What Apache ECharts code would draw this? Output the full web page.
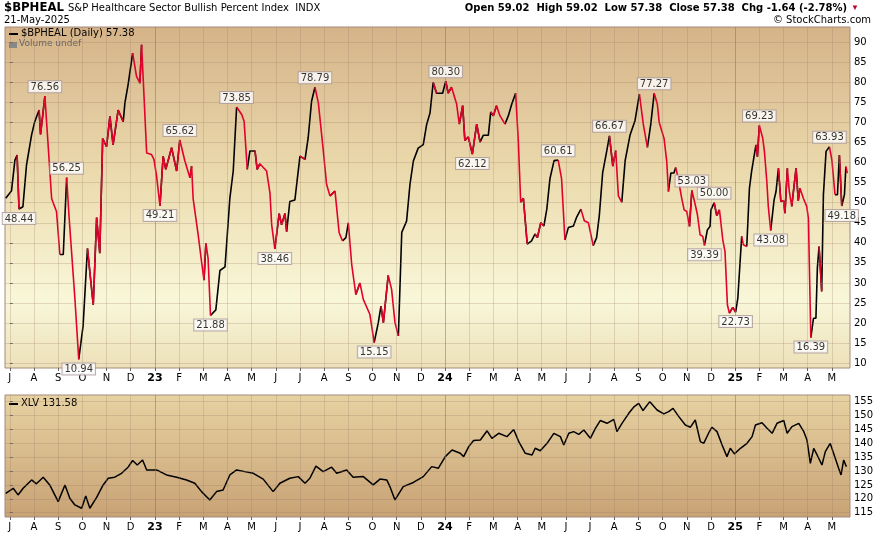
<!DOCTYPE html>
<html>
<head>
<meta charset="utf-8">
<script src="https://cdn.jsdelivr.net/npm/echarts@6/dist/echarts.min.js"></script>
<style>html,body{margin:0;padding:0;background:#fff}#c{width:877px;height:533px}</style>
</head>
<body>
<div id="c"></div>
<script>
// x values are months since 1-Jul-2022 (0 = Jul 2022)
const bphealX = [-0.17,0.07,0.21,0.30,0.38,0.54,0.69,0.90,1.03,1.21,1.27,1.45,1.73,1.93,2.07,2.21,2.35,2.45,2.69,2.85,3.03,3.21,3.45,3.59,3.72,3.84,4.00,4.14,4.27,4.48,4.69,4.76,4.89,5.08,5.24,5.38,5.45,5.54,5.66,5.86,5.96,6.07,6.21,6.34,6.45,6.69,6.90,7.03,7.24,7.45,7.52,7.58,7.79,7.93,8.03,8.11,8.20,8.30,8.52,8.69,8.90,9.10,9.24,9.38,9.59,9.69,9.82,9.93,10.14,10.23,10.34,10.62,10.76,10.83,10.96,11.14,11.24,11.38,11.45,11.58,11.79,12.00,12.21,12.34,12.48,12.62,12.76,12.96,13.10,13.24,13.45,13.62,13.76,13.90,14.00,14.14,14.31,14.48,14.62,14.89,15.07,15.24,15.35,15.45,15.65,15.79,15.93,16.07,16.21,16.41,16.55,16.69,16.89,17.10,17.24,17.38,17.51,17.65,17.90,18.03,18.13,18.27,18.48,18.59,18.73,18.82,18.96,19.13,19.31,19.45,19.58,19.79,19.89,20.00,20.13,20.27,20.48,20.62,20.76,20.92,21.03,21.13,21.24,21.40,21.58,21.72,21.82,21.96,22.09,22.21,22.34,22.51,22.68,22.82,22.96,23.10,23.31,23.45,23.62,23.76,23.93,24.13,24.27,24.38,24.52,24.69,24.80,24.94,25.06,25.17,25.31,25.45,25.65,25.86,26.04,26.20,26.37,26.51,26.65,26.78,26.86,27.06,27.17,27.24,27.34,27.47,27.54,27.63,27.79,27.89,28.00,28.11,28.21,28.35,28.44,28.55,28.66,28.73,28.85,28.96,29.00,29.13,29.24,29.35,29.49,29.58,29.68,29.76,29.90,30.02,30.11,30.27,30.34,30.48,30.59,30.68,30.86,30.92,31.00,31.14,31.21,31.31,31.37,31.47,31.61,31.69,31.79,31.89,32.00,32.06,32.16,32.24,32.34,32.52,32.61,32.68,32.82,32.96,33.03,33.13,33.24,33.34,33.40,33.47,33.58,33.65,33.76,33.90,34.00,34.13,34.23,34.31,34.41,34.52,34.58,34.64];
const bphealY = [51.1,53,60.6,61.9,48.44,49,59.4,66.9,70.2,73.1,67,76.56,51,47.8,37.1,37.1,56.25,46.5,26.2,10.94,19.3,38.6,24.5,46.3,37.4,66,64,71.5,64.4,73.1,70.2,74.9,79.4,87.3,81.5,79.8,89.36,77.8,62.4,62,60.8,56.6,49.21,61.6,58.3,63.7,57.9,65.62,60.4,56.2,59.1,51.1,42,35.3,30.7,39.9,36.1,21.88,23.3,33.1,34,51.1,57.9,73.85,72,70.3,58.3,62.9,62.9,58.3,59.7,57.9,52.4,44.5,38.46,47.3,44.5,47.3,42.8,50.3,50.7,61.6,60.8,66.2,75.3,78.79,74.9,63.3,54.6,51.7,52.9,42.5,40.5,41.3,45,34.6,27.1,30,25.9,22.2,15.15,20.1,24.2,20.1,31.9,28.4,20.1,16.8,42.6,45.4,54.6,60.4,63.6,64.5,69.5,72.4,80,77.3,77.3,80.30,77.3,78.8,74.6,69.6,74.2,65.5,66.4,62.12,69.6,65.1,66.8,66.8,72.6,71.7,74.2,71.7,69.6,71.7,74.6,77.3,65.5,50.1,51.1,39.7,40.5,42.2,41.3,45,44.2,48.4,56,60.5,60.61,56,40.7,43.8,44.2,46.5,48.4,45.5,45.0,39.3,41.3,46.7,57.5,62.9,66.67,59.1,63,51.7,50.1,60.5,66.8,70.5,77.1,69.6,63.8,69.6,77.27,74.6,70,66,60.3,52.8,57.4,57.4,58.8,56.5,51.1,48.2,47.8,44.1,53.03,49.5,47,42,41.6,39.39,43.2,44.1,48.2,50.0,46.8,48.2,40.7,37.8,24.5,22.5,23.9,22.73,26.2,41.6,39.5,39.1,53.6,57.8,64.4,61.5,69.23,66.1,62.8,55.3,49.1,43.08,50.7,52.8,58.6,50.3,50.5,47.4,58.6,52.8,49.1,58.6,50.5,53.6,51.1,49.1,46.1,16.39,21.2,21.2,33.7,39.1,27.9,52,62.8,63.93,60.7,52,52,61.9,49.18,52,59,57.38];

const xlvX = [-0.17,0.14,0.34,0.55,0.90,1.10,1.38,1.65,2.00,2.28,2.48,2.69,2.97,3.14,3.31,3.59,3.86,4.07,4.34,4.62,4.89,5.08,5.27,5.49,5.66,6.07,6.48,6.90,7.31,7.65,7.93,8.27,8.55,8.82,9.10,9.38,9.72,10.07,10.48,10.89,11.17,11.58,11.93,12.21,12.41,12.66,12.96,13.31,13.52,13.93,14.20,14.62,15.03,15.31,15.59,15.72,15.93,16.27,16.69,17.10,17.45,17.72,18.01,18.29,18.63,18.77,18.98,19.18,19.46,19.74,19.94,20.22,20.56,20.84,21.05,21.32,21.60,21.73,21.94,22.22,22.50,22.77,22.91,23.12,23.32,23.53,23.74,24.01,24.22,24.42,24.70,24.98,25.11,25.32,25.60,25.80,26.01,26.19,26.47,26.77,27.05,27.25,27.43,27.67,27.94,28.15,28.35,28.56,28.70,28.91,29.04,29.25,29.46,29.66,29.80,29.97,30.22,30.49,30.70,30.84,31.11,31.32,31.53,31.73,32.01,32.15,32.35,32.63,32.84,32.97,33.11,33.25,33.39,33.59,33.73,33.93,34.14,34.28,34.38,34.49,34.60];
const xlvY = [122,123.8,121.4,123.8,126.8,125.4,127.8,125,119,125,120.2,117.8,116.6,121,116.6,120.5,125,127.4,127.8,129.2,131.4,133.8,132.2,134,130.4,130.4,128.6,127.8,126.8,125.6,122.6,119.6,122.6,123.2,128.6,130.4,129.8,129.2,127.1,122.6,125.6,127.4,128,125.6,127.4,131.8,129.8,131.4,129.2,130.4,127.8,128,125,127.1,126.8,124.4,119.6,124.4,125.9,128,131.6,131,135.2,137.6,136.4,135.2,138.8,141,141.2,144.5,141.8,143.6,142.4,145,140.6,136.4,135.8,138.2,137.3,140,143.6,142.4,139.4,143.6,144.2,143.2,144.8,141.8,145.4,148.2,147.2,148.6,144.2,147.2,150.8,153,154.4,151.8,155,152,150.6,151.4,152.6,149.6,146.6,145.8,148.4,140.6,140,143.8,145.8,144.2,139.4,135.2,138.2,136.2,138.2,140,142.4,146.6,147.4,145.4,143.6,147.2,148.2,143.6,146,147.2,144.2,141.2,132.8,138.2,135.8,132.2,137,140,134.6,131,128.6,134,131.58];

// annotated turning points: [x, value, label side]
const notesX = [1.45,7.03,9.38,12.62,18.03,22.68,24.80,26.65,28.21,29.13,31.00,33.90,2.35,0.38,2.85,6.21,8.30,10.96,15.07,19.13,28.73,30.02,31.47,33.13,34.41];
const notesY = [76.56,65.62,73.85,78.79,80.30,60.61,66.67,77.27,53.03,50.00,69.23,63.93,56.25,48.44,10.94,49.21,21.88,38.46,15.15,62.12,39.39,22.73,43.08,16.39,49.18];
const notesSide = ['top','top','top','top','top','top','top','top','top','top','top','top','top','bottom','bottom','bottom','bottom','bottom','bottom','bottom','bottom','bottom','bottom','bottom','bottom'];

const topTicks = [10,15,20,25,30,35,40,45,50,55,60,65,70,75,80,85,90];
const botTicks = [115,120,125,130,135,140,145,150,155];
const monthTicks = Array.from({length: 35}, (_, i) => i);
const monthLetters = ['J','F','M','A','M','J','J','A','S','O','N','D'];

function monthLabel(m) {
  const k = Math.round(m) + 6;
  const mo = k % 12;
  if (mo === 0) return '{y|' + String(22 + k / 12) + '}';
  return monthLetters[mo];
}

// split line into rising (black) and falling (red) pieces
const upData = [], downData = [];
for (let i = 0; i < bphealX.length; i++) {
  const prevUp = i > 0 && bphealY[i] >= bphealY[i - 1];
  const nextUp = i < bphealX.length - 1 && bphealY[i + 1] >= bphealY[i];
  const prevDn = i > 0 && bphealY[i] < bphealY[i - 1];
  const nextDn = i < bphealX.length - 1 && bphealY[i + 1] < bphealY[i];
  upData.push([bphealX[i], (prevUp || nextUp) ? bphealY[i] : '-']);
  downData.push([bphealX[i], (prevDn || nextDn) ? bphealY[i] : '-']);
}

const gridColor = 'rgba(150,120,100,0.25)';
const vLines = monthTicks.map(m => ({ xAxis: m, lineStyle: { color: (Math.round(m) + 6) % 12 === 0 ? 'rgba(130,110,100,0.5)' : gridColor } }));

function gridMarks(ticks) {
  return {
    silent: true, symbol: 'none', label: { show: false },
    lineStyle: { type: 'solid', width: 1, color: gridColor },
    data: ticks.map(v => ({ yAxis: v })).concat(vLines)
  };
}

const xAxisBase = {
  type: 'value', min: -0.2, max: 34.75,
  axisLine: { show: false },
  axisTick: { show: true, customValues: monthTicks, length: 3, inside: false, lineStyle: { color: '#666' } },
  splitLine: { show: false },
  axisLabel: {
    customValues: monthTicks, formatter: monthLabel, color: '#000', fontSize: 10,
    fontFamily: 'DejaVu Sans', margin: 5,
    rich: { y: { fontWeight: 'bold', fontSize: 11, fontFamily: 'DejaVu Sans' } }
  }
};

const chart = echarts.init(document.getElementById('c'));
chart.setOption({
  animation: false,
  backgroundColor: '#fff',
  grid: [
    { left: 5, right: 27, top: 27, height: 341, show: true, borderColor: '#a58a7a', borderWidth: 1,
      backgroundColor: { type: 'linear', x: 0, y: 0, x2: 0, y2: 1, colorStops: [
        { offset: 0, color: '#d5b388' }, { offset: 0.45, color: '#ecdcaf' },
        { offset: 0.8, color: '#f9f7d9' }, { offset: 1, color: '#ece0b8' }] } },
    { left: 5, right: 27, top: 395, height: 122, show: true, borderColor: '#a58a7a', borderWidth: 1,
      backgroundColor: { type: 'linear', x: 0, y: 0, x2: 0, y2: 1, colorStops: [
        { offset: 0, color: '#e7d2a2' }, { offset: 1, color: '#c8a275' }] } }
  ],
  xAxis: [
    Object.assign({ gridIndex: 0 }, xAxisBase),
    Object.assign({ gridIndex: 1 }, xAxisBase)
  ],
  yAxis: [
    { gridIndex: 0, type: 'value', position: 'right', min: 8.8, max: 93.8,
      axisLine: { show: false }, splitLine: { show: false },
      axisTick: { show: true, customValues: topTicks, length: 3, lineStyle: { color: '#666' } },
      axisLabel: { customValues: topTicks, color: '#000', fontSize: 10, fontFamily: 'DejaVu Sans', margin: 4 } },
    { gridIndex: 1, type: 'value', position: 'right', min: 113.45, max: 157.4,
      axisLine: { show: false }, splitLine: { show: false },
      axisTick: { show: true, customValues: botTicks, length: 3, lineStyle: { color: '#666' } },
      axisLabel: { customValues: botTicks, color: '#000', fontSize: 10, fontFamily: 'DejaVu Sans', margin: 4 } }
  ],
  series: [
    { type: 'line', xAxisIndex: 0, yAxisIndex: 0, data: [], markLine: gridMarks(topTicks) },
    { type: 'line', xAxisIndex: 1, yAxisIndex: 1, data: [], markLine: gridMarks(botTicks) },
    { type: 'line', xAxisIndex: 0, yAxisIndex: 0, data: upData, showSymbol: false, connectNulls: false,
      lineStyle: { color: '#000', width: 1.6 }, z: 3 },
    { type: 'line', xAxisIndex: 0, yAxisIndex: 0, data: downData, showSymbol: false, connectNulls: false,
      lineStyle: { color: '#e3002b', width: 1.6 }, z: 3 },
    { type: 'line', xAxisIndex: 1, yAxisIndex: 1, data: xlvX.map((x, i) => [x, xlvY[i]]), showSymbol: false,
      lineStyle: { color: '#000', width: 1.5 }, z: 3 },
    { type: 'scatter', xAxisIndex: 0, yAxisIndex: 0, z: 5, symbol: 'triangle', symbolSize: 0,
      data: notesX.map((x, i) => ({
        value: [x, notesY[i]],
        label: { position: notesSide[i], distance: 4 }
      })),
      label: { show: true, formatter: p => notesY[p.dataIndex].toFixed(2), color: '#000', fontSize: 10,
        fontFamily: 'DejaVu Sans', backgroundColor: '#fff', borderColor: '#a99', borderWidth: 1, padding: [1, 2, 0, 2] } }
  ],
  graphic: [
    { type: 'text', left: 4, top: 1, style: { text: '$BPHEAL', fontSize: 13, fontWeight: 'bold', fontFamily: 'DejaVu Sans Condensed', fill: '#000' } },
    { type: 'text', left: 68, top: 3, style: { text: 'S&P Healthcare Sector Bullish Percent Index  INDX', fontSize: 10, fontFamily: 'DejaVu Sans', fill: '#000' } },
    { type: 'text', left: 4, top: 15, style: { text: '21-May-2025', fontSize: 10, fontFamily: 'DejaVu Sans', fill: '#000' } },
    { type: 'text', right: 30, top: 3, style: { text: 'Open 59.02  High 59.02  Low 57.38  Close 57.38  Chg -1.64 (-2.78%)', fontSize: 10, fontWeight: 'bold', fontFamily: 'DejaVu Sans', fill: '#000' } },
    { type: 'text', right: 18, top: 4, style: { text: '\u25BC', fontSize: 8, fill: '#c0002a' } },
    { type: 'text', right: 6, top: 15, style: { text: '\u00A9 StockCharts.com', fontSize: 10, fontFamily: 'DejaVu Sans', fill: '#000' } },
    { type: 'rect', left: 9, top: 33, shape: { width: 9, height: 2 }, style: { fill: '#000' } },
    { type: 'text', left: 21, top: 28, style: { text: '$BPHEAL (Daily) 57.38', fontSize: 10, fontFamily: 'DejaVu Sans', fill: '#000' } },
    { type: 'rect', left: 9, top: 42, shape: { width: 8, height: 6 }, style: { fill: '#888' } },
    { type: 'text', left: 19, top: 39, style: { text: 'Volume undef', fontSize: 9, fontFamily: 'DejaVu Sans', fill: '#666' } },
    { type: 'rect', left: 9, top: 403, shape: { width: 9, height: 2 }, style: { fill: '#000' } },
    { type: 'text', left: 21, top: 398, style: { text: 'XLV 131.58', fontSize: 10, fontFamily: 'DejaVu Sans', fill: '#000' } }
  ]
});
</script>
</body>
</html>
